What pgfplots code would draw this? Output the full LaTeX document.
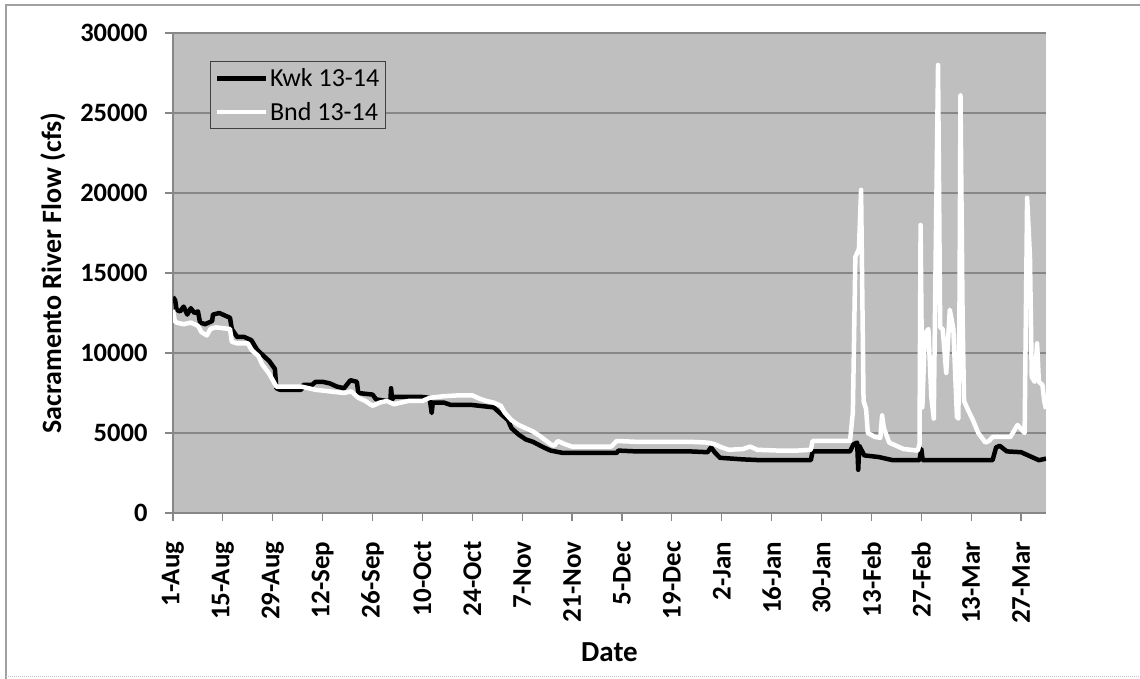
\documentclass[border=0pt]{standalone}
\usepackage{pgfplots}
\pgfplotsset{compat=1.18}
\usepackage{fontspec}
\setmainfont{Carlito}
\definecolor{plotgray}{RGB}{191,191,191}
\definecolor{gridgray}{RGB}{135,135,135}
\definecolor{framegray}{RGB}{160,160,160}
\begin{document}
\begin{tikzpicture}[x=1pt,y=1pt]
\useasboundingbox (0,0) rectangle (1140,679);
\fill[white] (0,0) rectangle (1140,679);
\draw[framegray, line width=2pt] (6,0) -- (6,674) -- (1140,674);
\draw[framegray!60, line width=1pt, densely dotted] (6,2) -- (1140,2);
\begin{axis}[
  at={(173pt,166pt)}, anchor=south west,
  scale only axis, width=873pt, height=480pt,
  xmin=0, xmax=245, ymin=0, ymax=30000,
  scaled y ticks=false,
  axis background/.style={fill=plotgray},
  axis x line*=bottom, axis y line*=left,
  axis line style={gridgray, line width=1.2pt, -},
  tick align=outside, major tick length=8pt,
  tick style={gridgray, line width=1.2pt},
  xtick={0,14,28,42,56,70,84,98,112,126,140,154,168,182,196,210,224,238},
  xticklabels={1-Aug,15-Aug,29-Aug,12-Sep,26-Sep,10-Oct,24-Oct,7-Nov,21-Nov,5-Dec,19-Dec,2-Jan,16-Jan,30-Jan,13-Feb,27-Feb,13-Mar,27-Mar},
  ytick={0,5000,10000,15000,20000,25000,30000},
  yticklabels={0,5000,10000,15000,20000,25000,30000},
  ymajorgrids, grid style={gridgray, line width=1.2pt},
  xticklabel style={font=\fontsize{27}{32}\bfseries\selectfont, rotate=90, anchor=east, xshift=-17pt},
  yticklabel style={font=\fontsize{26.5}{32}\bfseries\selectfont, anchor=east, xshift=-14pt},
  xlabel={Date}, ylabel={Sacramento River Flow (cfs)},
  xlabel style={font=\fontsize{29}{34}\bfseries\selectfont, yshift=-12pt},
  ylabel style={font=\fontsize{28}{33}\bfseries\selectfont, yshift=8pt},
  legend style={at={(0,1)}, anchor=north west, xshift=37pt, yshift=-28pt,
     draw=black!75, line width=1pt, fill=plotgray, font=\fontsize{26}{30}\selectfont,
     inner xsep=4pt, inner ysep=5pt, row sep=10pt,
     nodes={inner sep=2pt}},
  legend cell align=left,
  legend image code/.code={\draw[#1, line width=4.5pt] (0pt,0pt) -- (49pt,0pt);},
]
\addplot[black, line width=4.5pt, line join=round] coordinates {
(0,13500)(0.6,13300)(1,12700)(2,12600)(3,12900)(4,12400)(5,12800)(6,12500)(7,12600)
(7.6,11900)(9,11800)(11,12000)(11.2,12400)(13,12500)(15,12300)(16,12200)(16.5,11500)
(18,11000)(20,11000)(22,10800)(23.6,10200)(26,9700)(27,9500)(28.6,9000)(29,7800)
(30,7700)(36,7700)(36.5,8000)(39,8000)(40,8200)(42,8200)(44,8100)(46,7900)(48,7800)
(49.8,8300)(51.6,8200)(52,7500)(56,7400)(57,7100)(60,7000)(61,7000)(61.2,7800)
(61.5,7100)(62,7250)(70,7250)(72,7200)(72.6,6250)(72.9,6900)(76,6900)(78,6750)
(84,6750)(86,6700)(90,6600)(92,6200)(94,5800)(95,5300)(97,4900)(99,4600)(101,4450)
(104,4100)(106,3900)(109.5,3750)(124.5,3750)(125,3900)(130,3850)(140,3850)(145,3850)
(150,3800)(151,4100)(152,3800)(153.5,3450)(160,3350)(165,3300)(170,3300)(179,3300)
(179.5,3850)(190,3850)(191,4300)(192,4400)(192.3,2700)(192.6,4200)(194,3600)
(198,3500)(202,3300)(209.5,3300)(210,4000)(210.4,3300)(230,3300)(231,4100)(232,4200)
(234,3850)(238,3800)(241,3500)(243,3300)(245,3400)
};
\addlegendentry{Kwk 13-14}
\addplot[white, line width=4.5pt, line join=round] coordinates {
(0,12700)(0.5,12000)(1,11900)(3,11800)(5,11900)(7,11700)(8,11300)(9.5,11100)
(10.5,11500)(12,11600)(16,11500)(16.5,10700)(18,10600)(21,10600)(22,10200)(24,9800)
(25,9300)(27,8700)(28,8300)(29,7900)(36,7900)(40,7700)(44,7600)(48,7500)(50,7600)
(52,7200)(54,7000)(56,6700)(58,6900)(60,7000)(62,6800)(64,6900)(66,7000)(70,7000)
(72,7200)(76,7300)(80,7350)(84,7350)(86,7150)(88,7000)(90,6900)(92,6700)(93,6300)
(95,5800)(97,5500)(99,5300)(101,5100)(103,4800)(106,4300)(107,4200)(108,4500)
(110,4300)(112,4150)(120,4150)(123,4150)(124.5,4500)(130,4450)(140,4450)(145,4450)
(150,4400)(152,4300)(154,4100)(156,3950)(160,4000)(162,4150)(164,3950)(170,3900)
(175,3900)(179,3950)(179.5,4500)(190,4500)(190.8,6300)(191.5,16000)(192.5,16500)
(193.1,20200)(193.8,7000)(194.5,6500)(195,5000)(197,4750)(198.5,4700)(199,6100)
(199.5,5300)(201,4400)(205,4000)(209,3900)(209.5,4300)(209.8,18000)(210.3,6600)
(211,11200)(212,11500)(212.8,7300)(213.5,5900)(214,15400)(214.7,28000)(215.3,11600)
(216,11500)(217,8750)(218,12700)(219,11500)(219.5,8750)(220,6000)(220.4,5900)
(220.7,12200)(221,26100)(221.6,12100)(222,7000)(223,6500)(224.5,5800)(226,5000)
(228,4400)(229,4500)(230,4750)(235,4750)(237,5500)(239,5000)(239.7,19700)
(240.5,16000)(241,8500)(241.8,8200)(242.5,10600)(243,8200)(244,8000)(244.5,7000)
(245,6500)
};
\addlegendentry{Bnd 13-14}
\end{axis}
\end{tikzpicture}
\end{document}
